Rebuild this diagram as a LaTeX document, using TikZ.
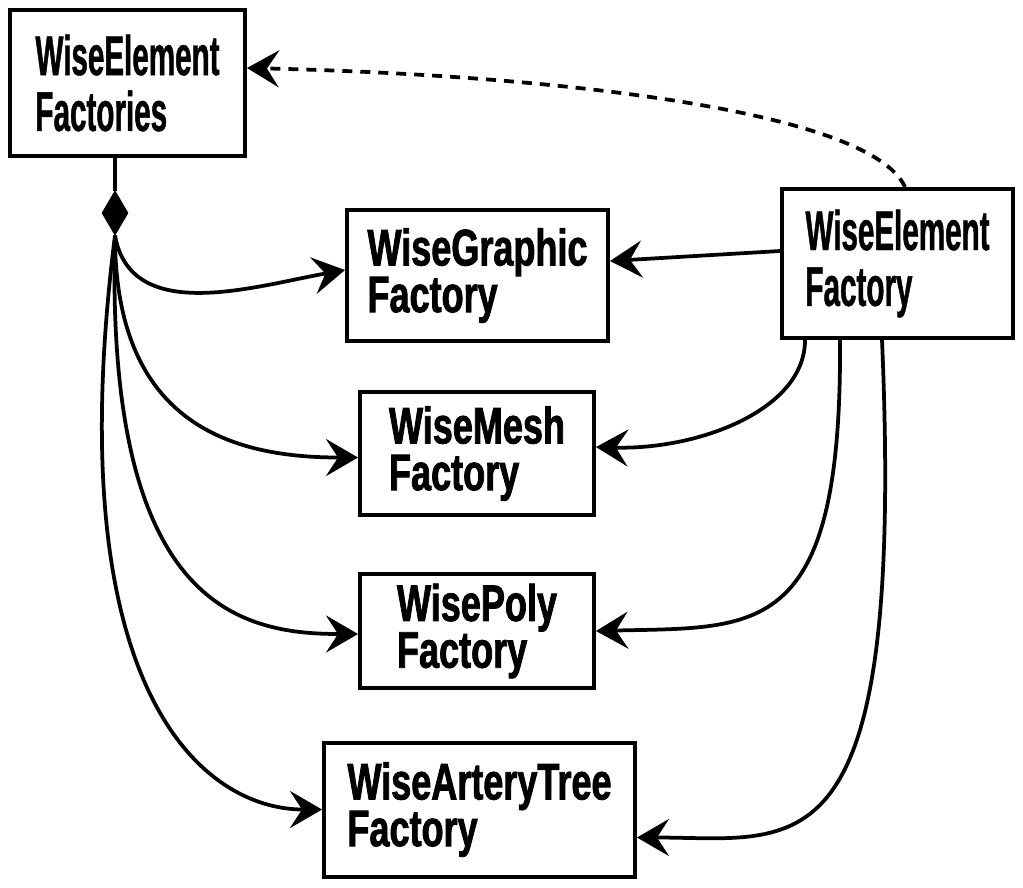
\documentclass[tikz,border=0pt]{standalone}
\usepackage{fontspec}
\newfontfamily\outerfont{Liberation Sans}[FakeStretch=0.53, BoldFeatures={FakeBold=0.8}]
\newfontfamily\innerfont{Liberation Sans}[FakeStretch=0.70, BoldFeatures={FakeBold=1.5}]
\usepackage{tikz}
\usetikzlibrary{shapes.geometric, arrows.meta}

\begin{document}
\begin{tikzpicture}[
    x=0.02cm, y=-0.02cm,
    box/.style={rectangle, draw, line width=0.08cm, align=left, inner sep=0pt},
    outer/.style={box, font=\outerfont\bfseries\fontsize{31.8}{31.8}\selectfont},
    inner/.style={box, font=\innerfont\bfseries\fontsize{29.3}{26.6}\selectfont},
    arrow/.style={-{Stealth[length=0.64cm, width=0.74cm, inset=0.24cm]}, line width=0.075cm},
    dep/.style={arrow, dash pattern=on 0.2cm off 0.16cm},
    comp/.style={diamond, draw, fill=black, line width=0.02cm, minimum width=0.52cm, minimum height=0.88cm, inner sep=0pt}
]
\useasboundingbox (0,0) rectangle (1023,887);

\node[outer, minimum width=4.7cm, minimum height=2.92cm] (facs) at (127.5,83) {WiseElement\\Factories};
\node[outer, minimum width=4.62cm, minimum height=2.98cm] (elemfac) at (897.5,263.5) {WiseElement\\Factory};
\node[inner, minimum width=5.22cm, minimum height=2.62cm] (graphic) at (477.5,275.5) {WiseGraphic\\Factory};
\node[inner, minimum width=4.68cm, minimum height=2.46cm] (mesh) at (477,453.5) {WiseMesh\\Factory};
\node[inner, minimum width=4.68cm, minimum height=2.28cm] (poly) at (477,631) {WisePoly\\Factory};
\node[inner, minimum width=6.22cm, minimum height=2.68cm] (artery) at (479.5,809.5) {WiseArteryTree\\Factory};
\node[comp] (dia) at (115,213) {};

% composition
\draw[line width=0.075cm] (facs.south -| dia) -- (dia.north);
\draw[arrow] (dia.south) .. controls +(16,90) and +(-90,16) .. ([yshift=0.11cm]graphic.west);
\draw[arrow] (dia.south) .. controls +(0,188) and +(-127,0) .. ([yshift=-0.08cm]mesh.west);
\draw[arrow] (dia.south) .. controls +(-10,368) and +(-121,0) .. ([yshift=-0.06cm]poly.west);
\draw[arrow] (dia.south) .. controls +(-58,458) and +(-118,0) .. (artery.west);

% factory
\draw[arrow] ([yshift=0.25cm]elemfac.west) -- ([yshift=0.29cm]graphic.east);
\draw[arrow] ([xshift=-1.85cm]elemfac.south) .. controls +(0,70) and +(102,3) .. ([yshift=0.13cm]mesh.east);
\draw[arrow] ([xshift=-1.15cm]elemfac.south) .. controls +(2,300) and +(162,-4) .. (poly.east);
\draw[arrow] ([xshift=-0.31cm]elemfac.south) .. controls +(23,540) and +(163,0) .. ([yshift=-0.56cm]artery.east);
\draw[dep] ([xshift=0.15cm]elemfac.north) .. controls +(-35,-77) and +(303,7) .. ([yshift=0.3cm]facs.east);
\end{tikzpicture}
\end{document}
